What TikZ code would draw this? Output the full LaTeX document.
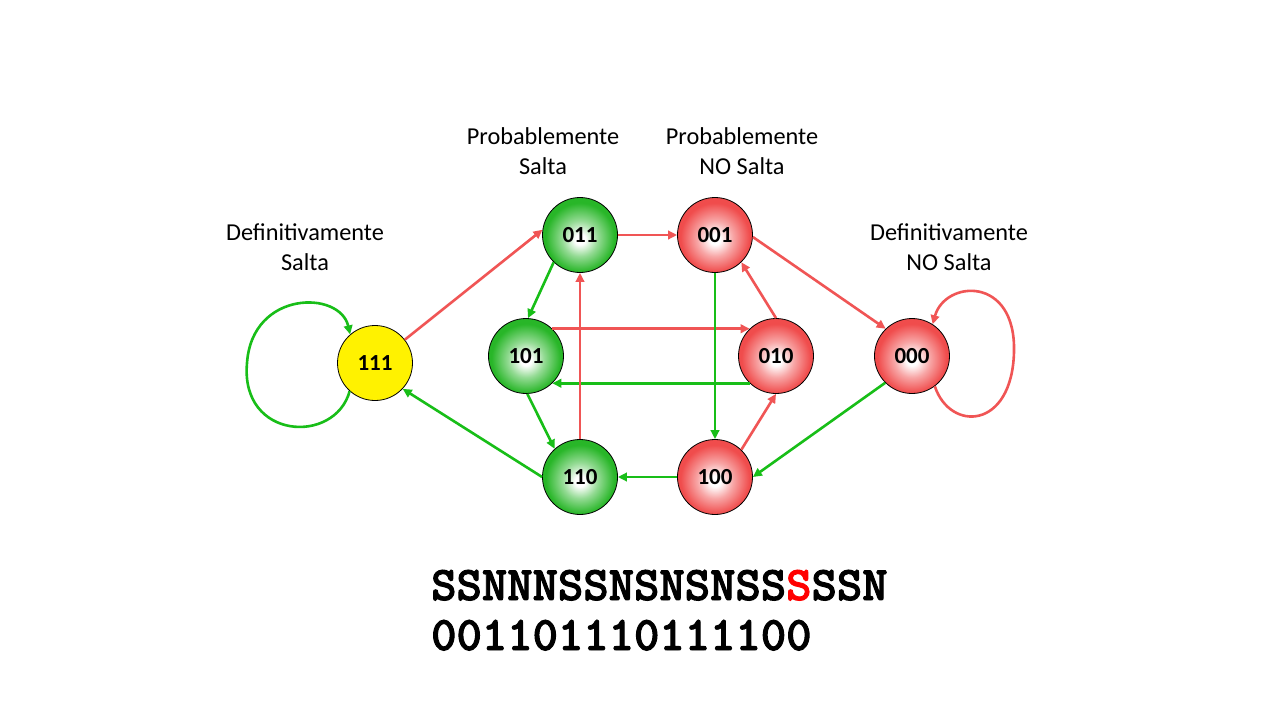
\documentclass[tikz,border=0pt]{standalone}
\usepackage{fontspec}
\setmainfont{Carlito}
\newfontfamily\seqfont{lmmonolt10-bold.otf}[FakeBold=2]
\usetikzlibrary{arrows.meta}
\definecolor{edgeG}{RGB}{24,190,24}
\definecolor{edgeR}{RGB}{240,85,85}
\definecolor{gnode}{RGB}{40,182,40}
\definecolor{rnode}{RGB}{240,76,76}
\pgfdeclareradialshading{gball}{\pgfpoint{0bp}{-3bp}}{color(0bp)=(white); color(3.5bp)=(white); color(12bp)=(gnode!50!white); color(23bp)=(gnode); color(50bp)=(gnode)}
\pgfdeclareradialshading{rball}{\pgfpoint{0bp}{-3bp}}{color(0bp)=(white); color(3.5bp)=(white); color(12bp)=(rnode!50!white); color(23bp)=(rnode); color(50bp)=(rnode)}
\begin{document}
\begin{tikzpicture}[x=1pt,y=-1pt,
 state/.style={circle,draw=black,line width=0.8pt,minimum size=75pt,inner sep=0pt,font=\fontsize{23}{24}\selectfont\bfseries},
 gstate/.style={state,shading=gball},
 rstate/.style={state,shading=rball},
 ystate/.style={state,fill=yellow},
 ge/.style={draw=edgeG,line width=2.6pt,-{Triangle[length=9pt,width=8.5pt]}},
 re/.style={draw=edgeR,line width=2.6pt,-{Triangle[length=9pt,width=8.5pt]}},
 lbl/.style={align=center,font=\fontsize{24.3}{30}\selectfont}
]
\fill[white] (0,0) rectangle (1280,720);
\useasboundingbox (0,0) rectangle (1280,720);

% states
\node[ystate] (n111) at (375,363) {111};
\node[gstate] (n011) at (580,235) {011};
\node[gstate] (n101) at (526,356) {101};
\node[gstate] (n110) at (580,477) {110};
\node[rstate] (n001) at (715,235) {001};
\node[rstate] (n010) at (776,356) {010};
\node[rstate] (n100) at (715,477) {100};
\node[rstate] (n000) at (912,356) {000};

% labels
\node[lbl] (lps) at (543,151) {Probablemente\\Salta};
\node[lbl] (lpn) at (742,151) {Probablemente\\NO Salta};
\node[lbl] (lds) at (305,247) {Definitivamente\\Salta};
\node[lbl] (ldn) at (949,247) {Definitivamente\\NO Salta};

% transitions
\draw[re] (n111.38) -- (n011.172);
\draw[re] (n011.east) -- (n001.west);
\draw[ge] (n011.226) -- (n101.87);
\draw[re] (n101.46) -- (n010.134);
\draw[ge] (n010.226) -- (n101.314);
\draw[re] (n110.north) -- (n011.south);
\draw[ge] (n101.-88) -- (n110.132);
\draw[ge] (n110.west) -- (n111.-43);
\draw[ge] (n100.west) -- (n110.east);
\draw[ge] (n001.south) -- (n100.north);
\draw[re] (n010.north) -- (n001.-46);
\draw[re] (n100.46) -- (n010.south);
\draw[re] (n001.-3) -- (n000.134);
\draw[ge] (n000.225) -- (n100.east);

% self loops
\draw[ge] (n111.228) .. controls (335,445) and (240,440) .. (247,363)
          .. controls (252,290) and (340,290) .. (n111.131);
\draw[re] (n000.-53) .. controls (950,432) and (1012,430) .. (1014,352)
          .. controls (1016,275) and (945,280) .. (n000.57);

% sequences
\node[anchor=base west,inner sep=0pt,font=\seqfont\fontsize{48.3}{50}\selectfont] (seq) at (431,600) {SSNNNSSNSNSNSS\textcolor{red}{S}SSN};
\node[anchor=base west,inner sep=0pt,font=\seqfont\fontsize{48.3}{50}\selectfont] (bits) at (431,650) {001101110111100};
\end{tikzpicture}
\end{document}
